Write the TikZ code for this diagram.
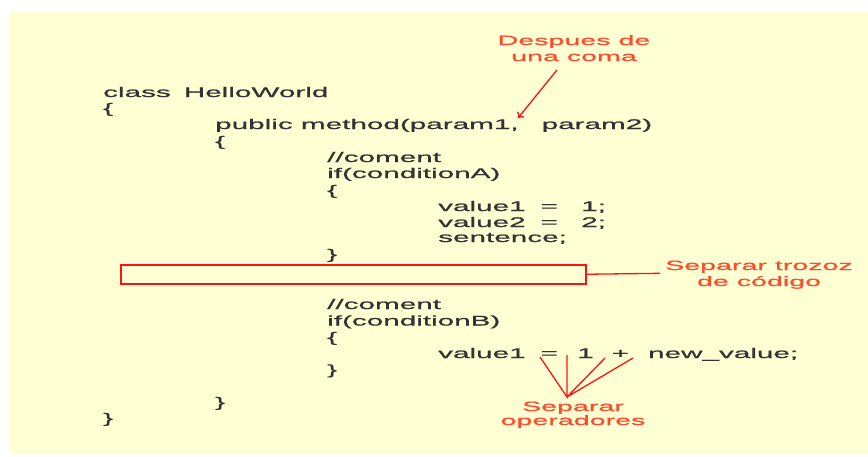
\documentclass[tikz,border=0pt]{standalone}
\usepackage{fontspec}
\setmainfont[FakeStretch=2.12,FakeBold=0.8]{Liberation Sans}
\usetikzlibrary{arrows.meta}
\definecolor{bgyellow}{RGB}{255,255,212}
\definecolor{codegray}{RGB}{50,50,50}
\definecolor{notered}{RGB}{255,75,45}
\definecolor{linered}{RGB}{250,20,20}
\begin{document}
\begin{tikzpicture}[x=1pt,y=-1pt,
  code/.style={anchor=base west, inner sep=0pt, text=codegray, font=\fontsize{14}{16}\selectfont},
  note/.style={anchor=base, inner sep=0pt, text=notered, font=\fontsize{13.5}{16}\selectfont},
  redline/.style={draw=linered, line width=1.3pt}]
\useasboundingbox (0,0) rectangle (868,456);
\fill[bgyellow] (10,12) rectangle (868,454);
% upper code
\node[code] (l1) at (103,97) {class\hspace{13pt}HelloWorld};
\node[code] (l2) at (103,113) {\{};
\node[code] (l3) at (215,129) {public method(param1,\hspace{23pt}param2)};
\node[code] (l4) at (215,146) {\{};
\node[code] (l5) at (327,162) {//coment};
\node[code] (l6) at (327,178) {if(conditionA)};
\node[code] (l7) at (327,195) {\{};
\node[code] (l8) at (438,211) {value1\hspace{15pt}=\hspace{23.3pt}1;};
\node[code] (l9) at (438,227) {value2\hspace{15pt}=\hspace{23.3pt}2;};
\node[code] (l10) at (438,242) {sentence;};
\node[code] (l11) at (327,259) {\}};
% separator box
\node[draw=linered, line width=1.5pt, minimum width=465pt, minimum height=19pt,
      inner sep=0pt, anchor=north west] (sep) at (120,264) {};
% lower code
\node[code] (m1) at (327,309) {//coment};
\node[code] (m2) at (327,325.5) {if(conditionB)};
\node[code] (m3) at (327,342) {\{};
\node[code] (m4) at (438,358) {value1\hspace{15pt}=\hspace{19.3pt}1\hspace{18pt}+\hspace{19pt}new\_value;};
\node[code] (m5) at (327,374.5) {\}};
\node[code] (m6) at (215,407) {\}};
\node[code] (m7) at (103,423) {\}};
% note: after a comma
\node[note] (d1) at (574,45) {Despues de};
\node[note] (d2) at (574,61) {una coma};
\coordinate (dstart) at (557,70);
\coordinate (dend) at (518,118);
\draw[redline,-{To[length=5pt,width=9pt]}] (dstart) -- (dend);
% note: separate code chunks
\node[note] (s1) at (759,270) {Separar trozoz};
\node[note] (s2) at (759,286) {de código};
\coordinate (sline) at (660,273.3);
\draw[redline] (sep.east) -- (sline);
% note: separate operators
\node[note] (o1) at (573,411) {Separar};
\node[note] (o2) at (573,425) {operadores};
\coordinate (oc) at (567,397);
\coordinate (op1) at (540,357);
\coordinate (op2) at (567,355);
\coordinate (op3) at (605,358);
\coordinate (op4) at (633,358);
\draw[redline] (op1) -- (oc) -- (op2) (oc) -- (op3) (oc) -- (op4);
\end{tikzpicture}
\end{document}
